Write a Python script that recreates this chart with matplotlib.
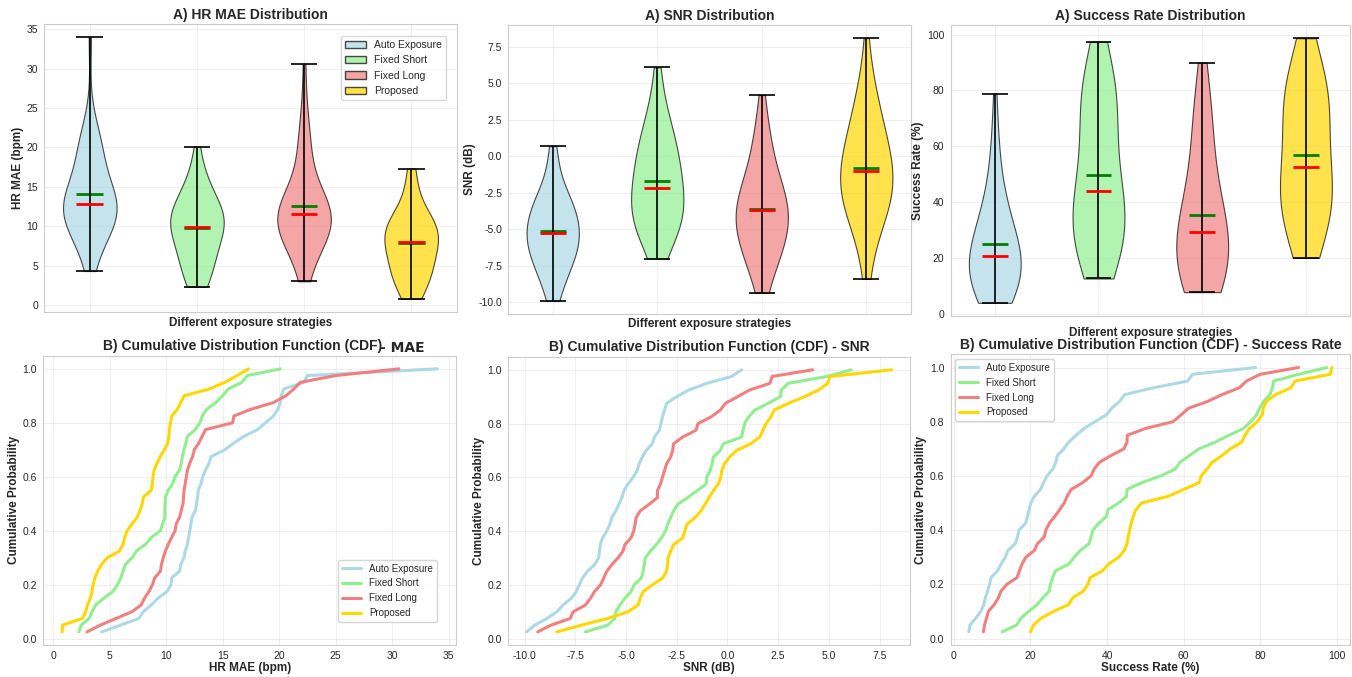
import numpy as np
import matplotlib
matplotlib.use('Agg')
import matplotlib.pyplot as plt
import seaborn as sns
from matplotlib.patches import Patch

strategies = ['Auto Exposure', 'Fixed Short', 'Fixed Long', 'Proposed']
colors = ['lightblue', 'lightgreen', 'lightcoral', 'gold']

# Per-sample values (40 samples per strategy)
mae_auto = [4.3, 6.0, 7.6, 8.0, 8.7, 9.3, 10.1, 10.45, 10.5, 11.2,
            11.3, 11.6, 11.7, 11.9, 12.0, 12.1, 12.2, 12.3, 12.6, 12.7,
            12.8, 12.85, 13.1, 13.25, 13.5, 13.8, 14.0, 15.2, 16.0, 16.9,
            18.1, 18.8, 19.5, 19.9, 20.1, 20.2, 20.4, 22.2, 22.5, 34.0]
mae_short = [2.3, 2.5, 3.2, 3.45, 3.8, 4.5, 5.3, 5.7, 6.0, 6.2,
             6.4, 7.0, 7.4, 8.2, 8.7, 9.5, 9.7, 9.9, 9.9, 9.92,
             9.95, 10.2, 10.6, 10.8, 11.2, 11.35, 11.45, 11.6, 11.75, 11.9,
             12.6, 13.0, 13.2, 13.6, 14.4, 15.0, 15.5, 16.7, 17.2, 20.1]
mae_long = [3.0, 4.2, 5.6, 7.0, 7.8, 8.1, 8.5, 8.8, 9.0, 9.5,
            9.6, 9.75, 9.95, 10.2, 10.5, 10.8, 10.9, 11.2, 11.35, 11.5,
            11.55, 11.6, 11.7, 11.8, 11.9, 12.1, 12.35, 12.5, 12.9, 13.2,
            13.5, 15.9, 16.0, 17.5, 19.5, 20.6, 21.3, 21.9, 25.0, 30.6]
mae_prop = [0.8, 0.85, 2.6, 2.9, 3.05, 3.3, 3.45, 3.55, 3.7, 3.95,
            4.3, 4.8, 5.9, 6.2, 6.35, 6.55, 7.0, 7.45, 7.7, 7.9,
            8.0, 8.7, 8.8, 8.85, 8.95, 9.2, 9.5, 9.85, 10.15, 10.25,
            10.3, 10.4, 10.5, 11.0, 11.3, 11.6, 13.8, 15.2, 16.3, 17.3]

snr_auto = [-9.9, -9.5, -8.9, -8.4, -8.1, -7.7, -7.45, -7.3, -7.15, -6.9,
            -6.55, -6.35, -6.3, -6.27, -6.15, -5.95, -5.8, -5.7, -5.5, -5.35,
            -5.2, -5.1, -4.9, -4.65, -4.45, -4.35, -4.2, -4.0, -3.7, -3.6,
            -3.35, -3.28, -3.2, -3.1, -3.0, -2.5, -1.9, -1.0, 0.2, 0.7]
snr_short = [-7.0, -5.9, -5.55, -5.5, -5.3, -5.05, -4.75, -4.6, -4.25, -4.15,
             -4.1, -4.05, -3.8, -3.5, -3.25, -3.05, -2.95, -2.8, -2.65, -2.45,
             -1.95, -1.5, -1.05, -1.02, -0.85, -0.75, -0.7, -0.35, -0.2, 0.7,
             0.77, 0.85, 1.05, 1.35, 2.0, 2.62, 2.65, 3.0, 4.9, 6.1]
snr_long = [-9.35, -8.7, -7.75, -7.6, -7.0, -6.75, -6.55, -6.25, -6.1, -5.95,
            -5.7, -5.4, -5.15, -5.05, -4.75, -4.62, -4.55, -4.5, -4.3, -3.85,
            -3.45, -3.45, -3.3, -3.2, -3.1, -3.0, -2.8, -2.7, -2.65, -2.2,
            -1.55, -1.45, -0.8, -0.35, -0.1, 0.5, 1.1, 2.1, 2.2, 4.2]
snr_prop = [-8.4, -7.2, -5.9, -4.9, -4.4, -4.3, -4.15, -3.7, -3.2, -3.0,
            -2.95, -2.93, -2.8, -2.65, -2.2, -2.1, -2.0, -1.6, -1.3, -1.1,
            -0.9, -0.7, -0.45, -0.33, -0.28, -0.15, 0.1, 0.45, 1.15, 1.6,
            1.75, 1.9, 2.15, 2.3, 3.0, 3.8, 4.5, 4.95, 5.05, 8.1]

sr_auto = [3.9, 4.2, 5.7, 7.0, 7.8, 8.2, 8.8, 9.3, 9.7, 11.4,
           12.3, 13.4, 14.1, 16.0, 16.6, 17.0, 18.7, 19.2, 19.6, 20.1,
           21.0, 22.6, 23.4, 24.3, 25.8, 26.6, 27.0, 28.7, 30.0, 31.9,
           34.0, 36.8, 39.8, 41.2, 43.3, 44.6, 52.0, 61.0, 62.3, 78.8]
sr_short = [12.6, 16.4, 17.5, 19.5, 21.7, 23.2, 24.9, 25.2, 25.8, 26.5,
            30.0, 31.4, 33.0, 35.3, 35.8, 36.3, 37.8, 39.8, 40.2, 43.0,
            45.1, 45.2, 49.0, 54.0, 57.8, 59.0, 61.5, 64.0, 68.3, 71.8,
            75.6, 77.5, 79.0, 79.8, 80.9, 82.5, 83.2, 83.5, 90.0, 97.4]
sr_long = [7.7, 8.0, 8.5, 9.0, 10.5, 11.6, 12.3, 13.8, 16.5, 17.1,
           17.8, 18.8, 21.0, 21.8, 23.6, 24.0, 24.9, 26.3, 27.6, 28.8,
           29.6, 30.6, 33.6, 35.8, 36.6, 38.0, 41.0, 44.4, 45.2, 45.3,
           50.0, 57.2, 59.3, 61.3, 66.3, 70.0, 74.5, 76.4, 80.0, 90.0]
sr_prop = [20.0, 20.8, 22.8, 26.0, 29.9, 31.0, 33.8, 35.0, 35.6, 38.8,
           40.4, 43.0, 44.5, 45.2, 45.5, 45.9, 46.3, 46.8, 47.5, 49.0,
           56.0, 60.0, 64.0, 64.6, 66.1, 67.4, 70.0, 72.2, 75.2, 76.0,
           77.2, 79.2, 80.5, 80.8, 81.6, 84.0, 88.0, 89.1, 98.3, 98.7]

mae_data = [mae_auto, mae_short, mae_long, mae_prop]
snr_data = [snr_auto, snr_short, snr_long, snr_prop]
sr_data = [sr_auto, sr_short, sr_long, sr_prop]

sns.set_style('whitegrid')
plt.rcParams['font.family'] = ['Liberation Sans', 'DejaVu Sans']
plt.rcParams['axes.unicode_minus'] = False
plt.rcParams['xtick.labelsize'] = 7.5
plt.rcParams['ytick.labelsize'] = 7.5
plt.rcParams['xtick.major.size'] = 0
plt.rcParams['ytick.major.size'] = 0
plt.rcParams['xtick.major.pad'] = 4.3
plt.rcParams['ytick.major.pad'] = 4.5

W, H = 1352, 677
fig = plt.figure(figsize=(W / 100, H / 100), dpi=100)


def add_ax(l, r, t, b):
    return fig.add_axes([l / W, 1 - b / H, (r - l) / W, (b - t) / H])


ax1 = add_ax(44.3, 456.7, 24, 311.7)
ax2 = add_ax(508.3, 910.7, 25, 314)
ax3 = add_ax(950.7, 1350, 25, 316)
ax4 = add_ax(43.3, 456, 355.7, 645)
ax5 = add_ax(508.3, 910, 356.7, 645)
ax6 = add_ax(950.7, 1350, 354.3, 645)

TFS = 10
LFS = 8.5


def violin(ax, data, title, ylabel, label_y):
    vp = ax.violinplot(data, positions=[1, 2, 3, 4], widths=0.5,
                       showmeans=True, showmedians=True, showextrema=True,
                       bw_method=0.62)
    for body, c in zip(vp['bodies'], colors):
        body.set_facecolor(c)
        body.set_edgecolor('black')
        body.set_alpha(0.7)
        body.set_linewidth(0.8)
    for k in ['cbars', 'cmins', 'cmaxes']:
        vp[k].set_color('black')
        vp[k].set_linewidth(1.2)
    vp['cmeans'].set_color('green')
    vp['cmeans'].set_linewidth(2)
    vp['cmedians'].set_color('red')
    vp['cmedians'].set_linewidth(2)
    ax.set_xticks([1, 2, 3, 4])
    ax.set_xticklabels([])
    ax.set_title(title, fontsize=TFS, fontweight='bold', pad=3.5)
    ax.set_ylabel(ylabel, fontsize=LFS, fontweight='bold', labelpad=2)
    ax.set_xlabel('Different exposure strategies', fontsize=LFS, fontweight='bold')
    ax.xaxis.set_label_coords(0.5, label_y)
    ax.grid(True, alpha=0.3)


violin(ax1, mae_data, 'A) HR MAE Distribution', 'HR MAE (bpm)', -0.017)
violin(ax2, snr_data, 'A) SNR Distribution', 'SNR (dB)', -0.015)
violin(ax3, sr_data, 'A) Success Rate Distribution', 'Success Rate (%)', -0.038)
ax1.set_yticks(np.arange(0, 36, 5))
ax2.set_yticks(np.arange(-10, 8, 2.5))
ax3.set_yticks(np.arange(0, 101, 20))

handles = [Patch(facecolor=c, edgecolor='black', alpha=0.7, label=s)
           for c, s in zip(colors, strategies)]
ax1.legend(handles=handles, loc='upper right', fontsize=7.5,
           bbox_to_anchor=(0.974, 0.958), borderaxespad=0)


def cdf(ax, data, xlabel):
    for vals, c, lab in zip(data, colors, strategies):
        x = np.sort(vals)
        y = np.arange(1, len(x) + 1) / len(x)
        ax.plot(x, y, color=c, lw=2.2, label=lab)
    ax.set_xlabel(xlabel, fontsize=LFS, fontweight='bold', labelpad=0.5)
    ax.set_ylabel('Cumulative Probability', fontsize=LFS, fontweight='bold',
                  labelpad=2)
    ax.grid(True, alpha=0.3)
    ax.set_yticks(np.arange(0, 1.01, 0.2))


cdf(ax4, mae_data, 'HR MAE (bpm)')
cdf(ax5, snr_data, 'SNR (dB)')
cdf(ax6, sr_data, 'Success Rate (%)')
ax4.set_xticks(np.arange(0, 36, 5))
ax5.set_xticks(np.arange(-10, 8, 2.5))
ax6.set_xticks(np.arange(0, 101, 20))

ax4.text(0.483, 1.0 + 6.0 / 289.3, 'B) Cumulative Distribution Function (CDF)',
         transform=ax4.transAxes, ha='center', va='baseline',
         fontsize=TFS, fontweight='bold')
ax4.text(0.816, 1.0 + 3.5 / 289.3, '- MAE', transform=ax4.transAxes,
         ha='left', va='baseline', fontsize=10, fontweight='bold',
         family='DejaVu Sans')
ax5.set_title('B) Cumulative Distribution Function (CDF) - SNR',
              fontsize=TFS, fontweight='bold', pad=4)
ax6.set_title('B) Cumulative Distribution Function (CDF) - Success Rate',
              fontsize=TFS, fontweight='bold', pad=4)

ax4.legend(loc='lower right', fontsize=7, bbox_to_anchor=(0.954, 0.0795),
           borderaxespad=0)
ax6.legend(loc='upper left', fontsize=7, bbox_to_anchor=(0.011, 0.984),
           borderaxespad=0)

fig.savefig('out.png', dpi=100)
